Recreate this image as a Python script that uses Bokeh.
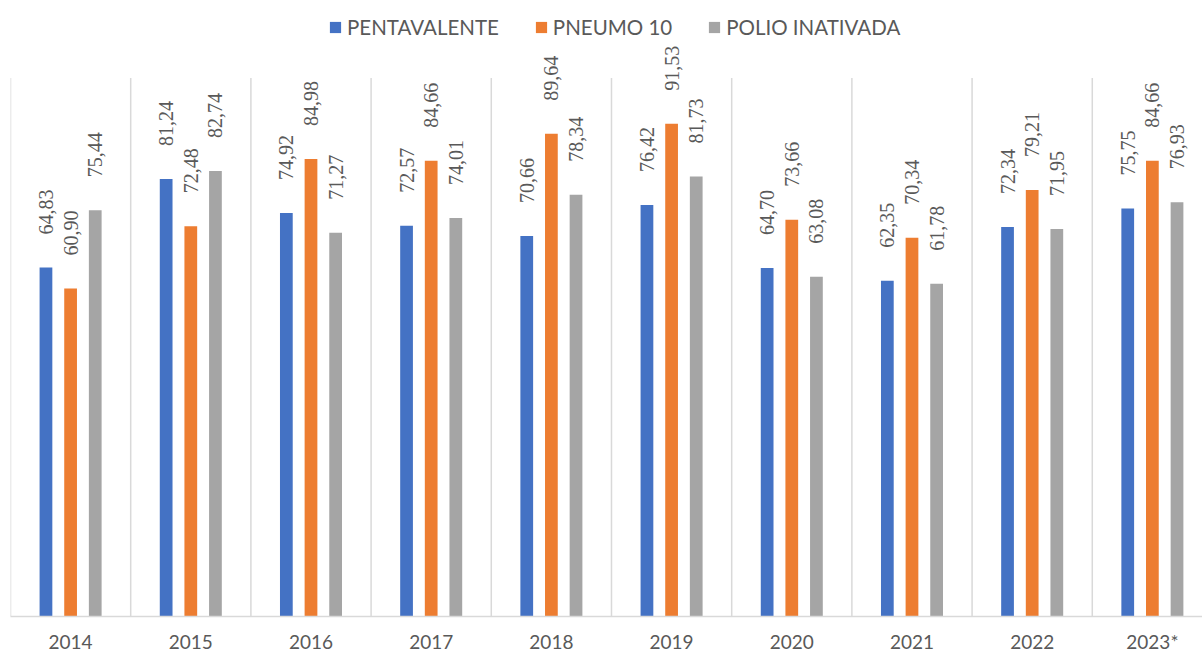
import math
from bokeh.plotting import figure
from bokeh.models import (Range1d, FixedTicker, Legend, LegendItem,
                          ColumnDataSource, LabelSet)
from bokeh.embed import file_html
from bokeh.resources import INLINE

# ---- data ----
years = ["2014", "2015", "2016", "2017", "2018", "2019", "2020", "2021", "2022", "2023*"]
pentavalente = [64.83, 81.24, 74.92, 72.57, 70.66, 76.42, 64.70, 62.35, 72.34, 75.75]
pneumo_10 = [60.90, 72.48, 84.98, 84.66, 89.64, 91.53, 73.66, 70.34, 79.21, 84.66]
polio_inativada = [75.44, 82.74, 71.27, 74.01, 78.34, 81.73, 63.08, 61.78, 71.95, 76.93]
series_names = ["PENTAVALENTE", "PNEUMO 10", "POLIO INATIVADA"]
series_values = [pentavalente, pneumo_10, polio_inativada]
colors = ["#4472C4", "#ED7D31", "#A5A5A5"]

FONT = "Lato"
TEXT_COLOR = "#595959"
GRID_COLOR = "#d9d9d9"
Y_MAX = 100          # top of the value scale (where separators end)
Y_HEADROOM = 114.4   # visible range above it (room for labels / legend)

p = figure(width=1202, height=655, output_backend="svg", toolbar_location=None,
           x_range=Range1d(0, 9.917), y_range=Range1d(0, Y_HEADROOM),
           y_axis_location=None,
           min_border_left=10, min_border_right=0, min_border_top=0,
           min_border_bottom=36)
p.outline_line_color = None
p.background_fill_color = "white"
p.border_fill_color = "white"
p.xgrid.visible = False
p.ygrid.visible = False

# category separators (vertical lines between the year groups)
sep_x = list(range(len(years)))
p.segment(x0=sep_x, y0=[0] * len(sep_x), x1=sep_x, y1=[Y_MAX] * len(sep_x),
          line_color=GRID_COLOR, line_width=1.5)

offsets = [-0.205, 0.0, 0.205]
bar_width = 0.106
renderers = []
for vals, off, col in zip(series_values, offsets, colors):
    xs = [i + 0.5 + off for i in range(len(years))]
    labels = [f"{v:.2f}".replace(".", ",") for v in vals]
    src = ColumnDataSource(dict(x=xs, top=vals, label=labels))
    r = p.vbar(x="x", top="top", bottom=0, width=bar_width, source=src,
               fill_color=col, line_color=None)
    renderers.append(r)
    ls = LabelSet(x="x", y="top", text="label", source=src, angle=math.pi / 2,
                  text_align="left", text_baseline="middle", y_offset=33,
                  text_font=FONT, text_font_size="20px", text_color=TEXT_COLOR)
    p.add_layout(ls)

# x axis with category labels centred in each slot
centers = [i + 0.5 for i in range(len(years))]
p.xaxis.ticker = FixedTicker(ticks=centers)
p.xaxis.major_label_overrides = {c: y for c, y in zip(centers, years)}
p.xaxis.major_tick_line_color = None
p.xaxis.minor_tick_line_color = None
p.xaxis.axis_line_color = GRID_COLOR
p.xaxis.axis_line_width = 1.5
p.xaxis.major_label_text_font = FONT
p.xaxis.major_label_text_font_size = "19px"
p.xaxis.major_label_text_color = TEXT_COLOR
p.xaxis.major_label_standoff = 7

legend = Legend(items=[LegendItem(label=n, renderers=[r]) for n, r in zip(series_names, renderers)],
                orientation="horizontal", location=(318, 577),
                label_text_font=FONT, label_text_font_size="20.5px",
                label_text_color=TEXT_COLOR, glyph_width=14, glyph_height=14,
                label_standoff=5, spacing=35, padding=0, margin=0,
                border_line_color=None, background_fill_alpha=0)
p.add_layout(legend)

open("out.html", "w").write(file_html(p, INLINE))
